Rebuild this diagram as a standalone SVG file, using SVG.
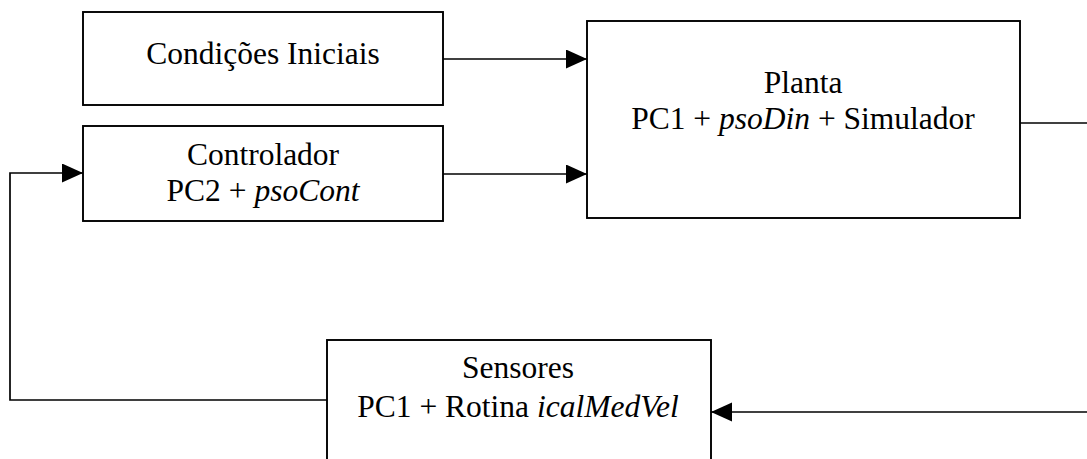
<svg xmlns="http://www.w3.org/2000/svg" width="1087" height="459" viewBox="0 0 1087 459">
<style>
.box{fill:#fff;stroke:#000;stroke-width:1.9}
.ln{fill:none;stroke:#000;stroke-width:1.7}
.t{font-family:'Liberation Serif','DejaVu Serif',serif;font-size:31.5px;fill:#000;text-anchor:middle}
.it{font-style:italic}
</style>
<defs>
<marker id="ah" markerUnits="userSpaceOnUse" markerWidth="22" markerHeight="20" refX="21" refY="9.5" orient="auto">
<path d="M0,0 L21,9.5 L0,19 z" fill="#000"/>
</marker>
</defs>
<g id="connectors">
<path class="ln" d="M443,59 H587" marker-end="url(#ah)"/>
<path class="ln" d="M443,174 H587" marker-end="url(#ah)"/>
<path class="ln" d="M1020,123 H1087"/>
<path class="ln" d="M1087,412 H711" marker-end="url(#ah)"/>
<path class="ln" d="M327,400 H10 V173 H83" marker-end="url(#ah)"/>
</g>
<g id="condicoes">
<rect class="box" x="83" y="12" width="360" height="93"/>
<text class="t" x="263" y="64">Condições Iniciais</text>
</g>
<g id="controlador">
<rect class="box" x="83" y="126" width="360" height="95"/>
<text class="t" x="263" y="165">Controlador</text>
<text class="t" x="263" y="201">PC2 + <tspan class="it">psoCont</tspan></text>
</g>
<g id="planta">
<rect class="box" x="587" y="21" width="433" height="197"/>
<text class="t" x="803" y="93">Planta</text>
<text class="t" x="803" y="129">PC1 + <tspan class="it">psoDin</tspan> + Simulador</text>
</g>
<g id="sensores">
<rect class="box" x="327" y="340" width="384" height="130"/>
<text class="t" x="518" y="378">Sensores</text>
<text class="t" x="518" y="417">PC1 + Rotina <tspan class="it">icalMedVel</tspan></text>
</g>
</svg>
